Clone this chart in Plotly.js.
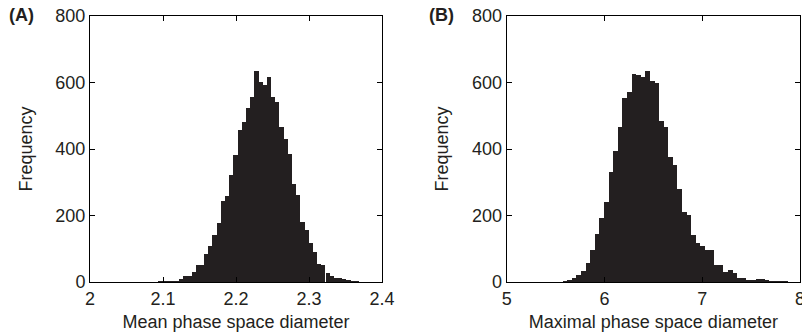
<!DOCTYPE html>
<html>
<head>
<meta charset="utf-8">
<script src="https://cdn.plot.ly/plotly-3.0.1.min.js"></script>
<style>html,body{margin:0;padding:0;background:#fff;}#chart{width:802px;height:335px;}</style>
</head>
<body>
<div id="chart"></div>
<script>
// Panel A: mean phase space diameter histogram (bin centres, counts)
const binWidthA = 0.005737;
const centersA = [2.0845,2.0903,2.0960,2.1018,2.1075,2.1132,2.1190,2.1247,2.1304,2.1362,
  2.1419,2.1476,2.1534,2.1591,2.1649,2.1706,2.1763,2.1821,2.1878,2.1935,
  2.1993,2.2050,2.2108,2.2165,2.2222,2.2280,2.2337,2.2394,2.2452,2.2509,
  2.2566,2.2624,2.2681,2.2739,2.2796,2.2853,2.2911,2.2968,2.3025,2.3083,
  2.3140,2.3197,2.3255,2.3312,2.3370,2.3427,2.3484,2.3542,2.3599,2.3656,2.3714];
const countsA = [1,1,2,2,3,4,4,9,17,17,
  30,51,52,83,108,140,177,243,259,323,
  381,456,481,524,556,634,601,591,616,556,
  541,466,431,386,296,261,181,155,117,90,
  53,52,28,18,12,11,10,5,3,3,1];

// Panel B: maximal phase space diameter histogram
const binWidthB = 0.047;
const centersB = [5.5015,5.5485,5.5955,5.6425,5.6895,5.7365,5.7835,5.8305,5.8775,5.9245,
  5.9715,6.0185,6.0655,6.1125,6.1595,6.2065,6.2535,6.3005,6.3475,6.3945,
  6.4415,6.4885,6.5355,6.5825,6.6295,6.6765,6.7235,6.7705,6.8175,6.8645,
  6.9115,6.9585,7.0055,7.0525,7.0995,7.1465,7.1935,7.2405,7.2875,7.3345,
  7.3815,7.4285,7.4755,7.5225,7.5695,7.6165,7.6635,7.7105,7.7575,7.8045,
  7.8515,7.8985,7.9455];
const countsB = [1,1,3,5,11,20,33,58,97,145,
  193,242,332,393,467,553,572,625,623,618,
  635,605,598,485,467,375,353,280,212,202,
  140,118,107,97,97,50,50,30,35,28,
  11,11,7,5,9,9,6,3,3,2,
  2,1,1];

const ticksA = [2, 2.1, 2.2, 2.3, 2.4];
const tickTextA = ['2', '2.1', '2.2', '2.3', '2.4'];
const ticksB = [5, 6, 7, 8];
const tickTextB = ['5', '6', '7', '8'];
const ticksY = [0, 200, 400, 600, 800];

const FONT = 'Liberation Sans, Arial, Helvetica, sans-serif';
const INK = '#231f20';

const traces = [
  {type:'bar', x:centersA, y:countsA, width:centersA.map(()=>binWidthA),
   marker:{color:INK, line:{width:0}}, xaxis:'x', yaxis:'y', hoverinfo:'x+y'},
  {type:'bar', x:centersB, y:countsB, width:centersB.map(()=>binWidthB),
   marker:{color:INK, line:{width:0}}, xaxis:'x2', yaxis:'y2', hoverinfo:'x+y'}
];

function xax(domain, range, vals, text, title){
  return {domain:domain, range:range, tickvals:vals, ticktext:text,
    ticks:'inside', ticklen:5, tickwidth:1, tickcolor:'#000',
    showline:true, linecolor:'#000', linewidth:1, mirror:'ticks',
    showgrid:false, zeroline:false, fixedrange:true, ticklabeloverflow:'allow',
    tickfont:{family:FONT, size:18, color:INK},
    title:{text:title, font:{family:FONT, size:18, color:INK}, standoff:7}};
}
function yax(anchor){
  return {anchor:anchor, range:[0,800], tickvals:ticksY,
    ticks:'inside', ticklen:5, tickwidth:1, tickcolor:'#000',
    showline:true, linecolor:'#000', linewidth:1, mirror:'ticks',
    showgrid:false, zeroline:false, fixedrange:true,
    tickfont:{family:FONT, size:18, color:INK},
    title:{text:'Frequency', font:{family:FONT, size:18, color:INK}, standoff:18}};
}

const layout = {
  width:802, height:335,
  margin:{l:90, r:2, t:16, b:53},
  paper_bgcolor:'#fff', plot_bgcolor:'#fff',
  showlegend:false, bargap:0,
  font:{family:FONT, size:18, color:INK},
  xaxis: Object.assign(xax([0, 0.4113], [2, 2.4], ticksA, tickTextA, 'Mean phase space diameter'), {anchor:'y'}),
  yaxis: yax('x'),
  xaxis2: Object.assign(xax([0.5869, 1], [5, 8], ticksB, tickTextB, 'Maximal phase space diameter'), {anchor:'y2'}),
  yaxis2: yax('x2'),
  annotations:[
    {text:'<b>(A)</b>', xref:'paper', yref:'paper', x:-0.1169, y:1.002, xanchor:'left', yanchor:'middle',
     showarrow:false, font:{family:FONT, size:18, color:INK}},
    {text:'<b>(B)</b>', xref:'paper', yref:'paper', x:0.4746, y:1.002, xanchor:'left', yanchor:'middle',
     showarrow:false, font:{family:FONT, size:18, color:INK}}
  ]
};

Plotly.newPlot('chart', traces, layout, {displayModeBar:false, staticPlot:true});
</script>
</body>
</html>
